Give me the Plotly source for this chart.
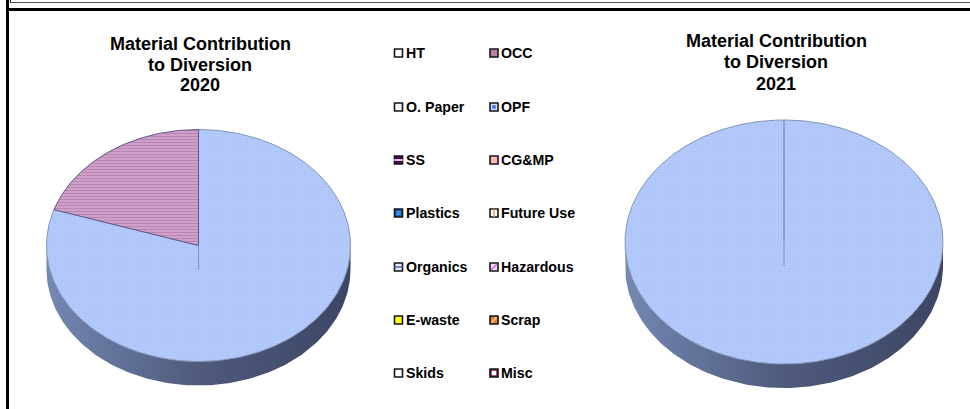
import math
import plotly.graph_objects as go

categories = ["HT", "OCC", "O. Paper", "OPF", "SS", "CG&MP", "Plastics", "Future Use",
              "Organics", "Hazardous", "E-waste", "Scrap", "Skids", "Misc"]
values_2020 = [0, 0, 0, 80, 20, 0, 0, 0, 0, 0, 0, 0, 0, 0]
values_2021 = [0, 0, 0, 100, 0, 0, 0, 0, 0, 0, 0, 0, 0, 0]
title_2020 = ["Material Contribution", "to Diversion", "2020"]
title_2021 = ["Material Contribution", "to Diversion", "2021"]

FONT = "Liberation Sans"
slice_style = {
    "OPF": dict(bg="#b4cafc", fg="#a2b9ee", shape=".", size=3, solidity=0.35, edge="#8494b4"),
    "SS": dict(bg="#cf9fca", fg="#a5709f", shape="-", size=3, solidity=0.35, edge="#5a5a8a"),
}
# outer fill, inner mark colour, inner mark symbol, inner size
swatch_style = {
    "HT": ("#ffffff", None, None, 0),
    "OCC": ("#b8829c", None, None, 0),
    "O. Paper": ("#f4f4f4", None, None, 0),
    "OPF": ("#d4e2ff", "#3f6fe8", "square", 2),
    "SS": ("#5a005a", "#ffffff", "line-ew-open", 6),
    "CG&MP": ("#f8b9b6", None, None, 0),
    "Plastics": ("#0a58ae", "#3f8ee0", "square", 3),
    "Future Use": ("#ffffff", "#f09a50", "line-ns-open", 6),
    "Organics": ("#e8ecfa", "#5a60b8", "line-ew-open", 6),
    "Hazardous": ("#f6dcf6", "#d860d8", "line-ne-open", 6),
    "E-waste": ("#ffff00", None, None, 0),
    "Scrap": ("#f57a20", "#fbd0a8", "line-ne-open", 5),
    "Skids": ("#ffffff", None, None, 0),
    "Misc": ("#8a2030", "#ffffff", "square", 3),
}
wall_scale = [[0, "#7488b2"], [0.2, "#64759c"], [0.5, "#4f5a7c"], [1, "#3c4664"]]

fig = go.Figure()


def draw_pie(values, cx, cy, rx, ry, depth):
    # side wall: lower half of the ellipse, extruded downward
    n = 160
    th = [math.pi / 2 + math.pi * i / n for i in range(n + 1)]
    xs = [cx + rx * math.sin(t) for t in th]
    ys = [cy - ry * math.cos(t) for t in th]
    fig.add_trace(go.Scatter(
        x=xs + xs[::-1], y=ys + [y + depth for y in ys[::-1]],
        mode="lines", fill="toself", line=dict(width=0, color="#5f6f95"),
        fillgradient=dict(type="horizontal", colorscale=wall_scale),
        hoverinfo="skip", showlegend=False))
    total = sum(values)
    start = 0.0
    for name, v in zip(categories, values):
        if v == 0:
            continue
        end = start + 2 * math.pi * v / total
        steps = max(2, int((end - start) / (2 * math.pi) * 360))
        ang = [start + (end - start) * i / steps for i in range(steps + 1)]
        px = [cx + rx * math.sin(a) for a in ang]
        py = [cy - ry * math.cos(a) for a in ang]
        st = slice_style[name]
        fig.add_trace(go.Scatter(
            x=[cx] + px + [cx], y=[cy] + py + [cy],
            mode="lines", fill="toself", fillcolor=st["bg"],
            fillpattern=dict(shape=st["shape"], bgcolor=st["bg"], fgcolor=st["fg"],
                             size=st["size"], solidity=st["solidity"]),
            line=dict(width=1, color=st["edge"]),
            name=name, hoverinfo="name", showlegend=False))
        start = end
    # seam of the first slice showing through the face
    fig.add_trace(go.Scatter(
        x=[cx, cx], y=[cy, cy + depth], mode="lines",
        line=dict(width=1, color="#8494b4"), hoverinfo="skip", showlegend=False))


draw_pie(values_2020, 198.5, 245.5, 152, 116, 24)
draw_pie(values_2021, 784, 242, 159, 122, 24)

# legend
col_x = [398.5, 494]
row_y = [53, 107, 160, 213, 267, 320, 373]
for i, name in enumerate(categories):
    x = col_x[i % 2]
    y = row_y[i // 2]
    fill, inner, sym, size = swatch_style[name]
    fig.add_trace(go.Scatter(
        x=[x], y=[y], mode="markers", hoverinfo="skip", showlegend=False,
        marker=dict(symbol="square", size=8, color=fill, line=dict(width=1.6, color="#141420"))))
    if inner:
        fig.add_trace(go.Scatter(
            x=[x], y=[y], mode="markers", hoverinfo="skip", showlegend=False,
            marker=dict(symbol=sym, size=size, color=inner, line=dict(width=1.5, color=inner))))
    fig.add_annotation(x=x + 5, y=y, text=f"<b>{name}</b>", showarrow=False,
                       xanchor="left", yanchor="middle",
                       font=dict(family=FONT, size=14.2, color="#000000"))

for lines, x, ys in [(title_2020, 200, [44, 64.5, 85]), (title_2021, 776, [41, 62, 84])]:
    for line, y in zip(lines, ys):
        fig.add_annotation(x=x, y=y, text=f"<b>{line}</b>", showarrow=False,
                           xanchor="center", yanchor="middle", align="center",
                           font=dict(family=FONT, size=18, color="#000000"))

shapes = [
    dict(type="rect", x0=6, x1=9, y0=0, y1=409, fillcolor="#000", line_width=0),
    dict(type="rect", x0=6, x1=970, y0=8, y1=11, fillcolor="#000", line_width=0),
    dict(type="rect", x0=10, x1=970, y0=2, y1=3, fillcolor="#555", line_width=0),
    dict(type="rect", x0=10, x1=11, y0=0, y1=3, fillcolor="#222", line_width=0),
]
fig.update_layout(
    width=970, height=409, margin=dict(l=0, r=0, t=0, b=0), showlegend=False,
    paper_bgcolor="#ffffff", plot_bgcolor="#ffffff", shapes=shapes,
    xaxis=dict(range=[0, 970], visible=False, fixedrange=True),
    yaxis=dict(range=[409, 0], visible=False, fixedrange=True),
)
fig.write_html("out.html", config=dict(displayModeBar=False),
               post_script="document.body.style.margin='0';document.body.style.overflow='hidden';")
